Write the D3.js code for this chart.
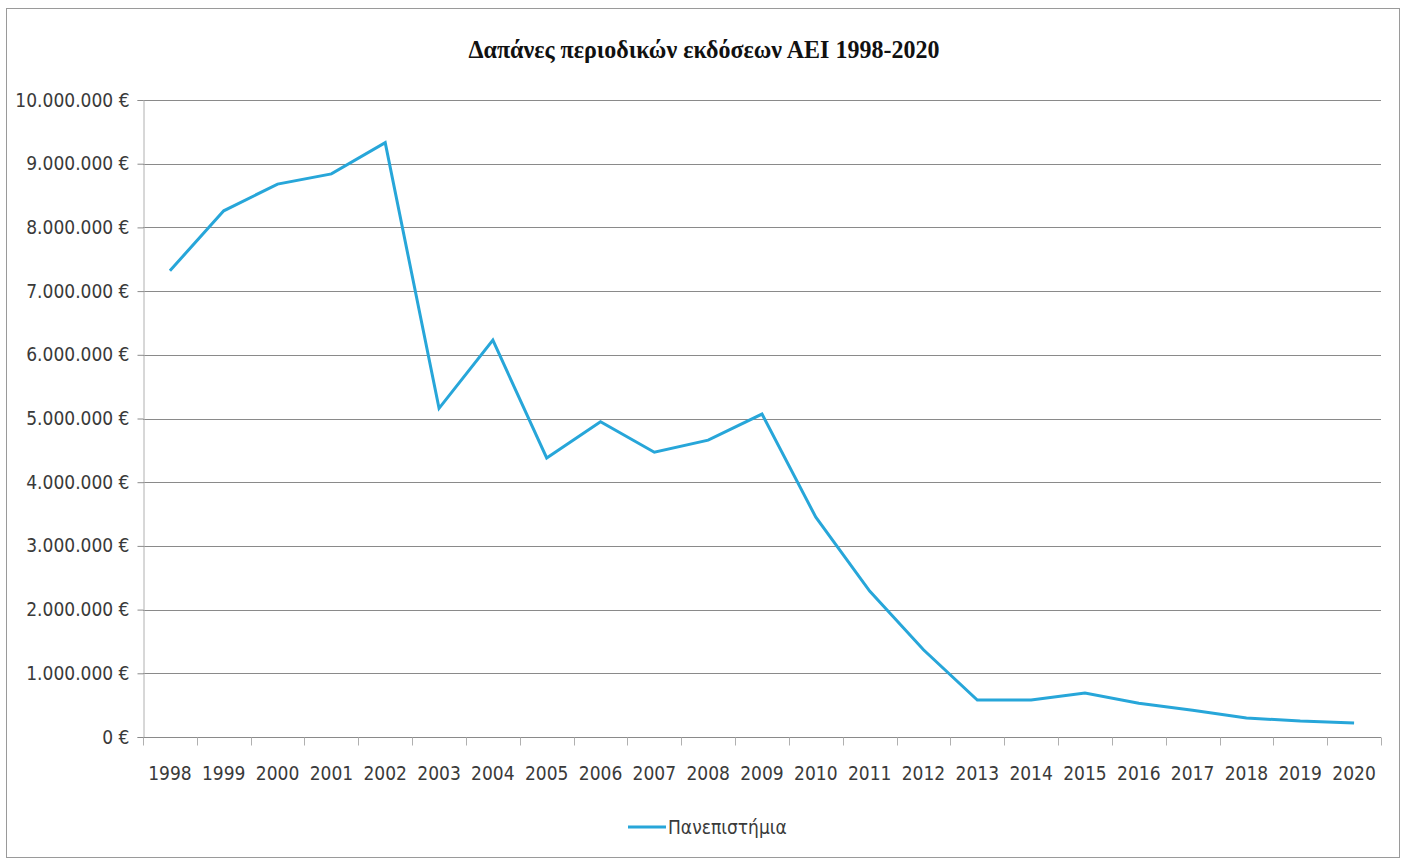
<!DOCTYPE html>
<html><head><meta charset="utf-8">
<script src="https://cdn.jsdelivr.net/npm/d3@7"></script>
<style>body{margin:0;background:#fff}svg{display:block}</style>
</head><body>
<svg id="c" width="1406" height="862"></svg>
<script>
const years = ["1998","1999","2000","2001","2002","2003","2004","2005","2006","2007","2008","2009","2010","2011","2012","2013","2014","2015","2016","2017","2018","2019","2020"];
const spending = [7320000,8260000,8680000,8840000,9330000,5160000,6230000,4380000,4950000,4470000,4660000,5070000,3450000,2290000,1370000,580000,580000,690000,530000,420000,300000,250000,220000];
const yTicks = [0,1000000,2000000,3000000,4000000,5000000,6000000,7000000,8000000,9000000,10000000];
const seriesName = "Πανεπιστήμια";
const titleText = "Δαπάνες περιοδικών εκδόσεων ΑΕΙ 1998-2020";

const svg = d3.select("#c");
const L = 143, R = 1381, T = 100, B = 737;
const lblFont = "'Liberation Sans Narrow','DejaVu Sans Condensed',sans-serif";

svg.append("rect").attr("x",6.5).attr("y",8.5).attr("width",1393).attr("height",849)
  .attr("fill","#fff").attr("stroke","#9a9a9a").attr("stroke-width",1);

const x = d3.scaleBand().domain(years).range([L,R]).padding(0);
const y = d3.scaleLinear().domain([0,10000000]).range([B,T]);

// gridlines
svg.append("g").selectAll("line").data(yTicks).join("line")
  .attr("x1",L).attr("x2",R).attr("y1",d=>Math.round(y(d))+0.5).attr("y2",d=>Math.round(y(d))+0.5)
  .attr("stroke","#8a8a8a").attr("stroke-width",1);

// y axis
const fmt = d => d3.format(",")(d).replace(/,/g,".") + " €";
const ya = svg.append("g").attr("transform",`translate(${L+0.5},0)`)
  .call(d3.axisLeft(y).tickValues(yTicks).tickFormat(fmt).tickSize(6).tickPadding(8));
ya.select(".domain").attr("stroke","#b0b0b0");
ya.selectAll(".tick line").attr("stroke","#8a8a8a");
ya.selectAll("text").attr("font-family",lblFont).attr("font-size",19).attr("fill","#3a3a3a");

// x axis ticks at band boundaries
const xa = svg.append("g").attr("transform",`translate(0,${B+0.5})`);
xa.append("line").attr("x1",L).attr("x2",R).attr("stroke","#8a8a8a");
const bounds = years.map(d=>x(d)).concat([R]);
xa.selectAll("line.t").data(bounds).join("line").attr("class","t")
  .attr("x1",d=>Math.round(d)+0.5).attr("x2",d=>Math.round(d)+0.5).attr("y1",0).attr("y2",8)
  .attr("stroke","#b0b0b0");
xa.selectAll("text").data(years).join("text")
  .attr("x",d=>x(d)+x.bandwidth()/2).attr("y",42)
  .attr("text-anchor","middle").attr("font-family",lblFont).attr("font-size",19).attr("fill","#3a3a3a")
  .text(d=>d);

// line
const line = d3.line().x((d,i)=>x(years[i])+x.bandwidth()/2).y(d=>y(d));
svg.append("path").datum(spending).attr("d",line).attr("fill","none")
  .attr("stroke","#27a6d9").attr("stroke-width",3).attr("stroke-linejoin","miter");

// title
svg.append("text").attr("x",704).attr("y",58).attr("text-anchor","middle")
  .attr("font-family","'Liberation Serif',serif").attr("font-size",25).attr("fill","#111")
  .attr("font-weight","bold").attr("textLength",471).attr("lengthAdjust","spacingAndGlyphs")
  .text(titleText);

// legend
svg.append("line").attr("x1",628).attr("x2",666).attr("y1",827).attr("y2",827)
  .attr("stroke","#27a6d9").attr("stroke-width",3);
svg.append("text").attr("x",668).attr("y",834).attr("font-family",lblFont).attr("font-size",19)
  .attr("fill","#3a3a3a").text(seriesName);
</script>
</body></html>
